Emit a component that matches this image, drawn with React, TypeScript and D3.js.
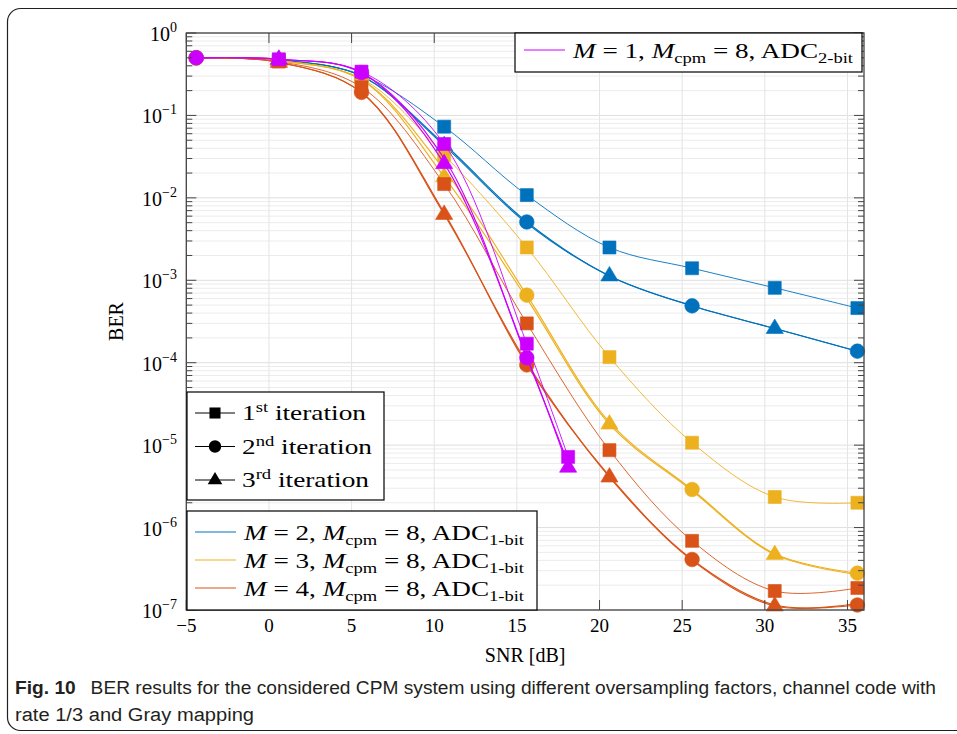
import React from 'react';
import * as d3 from 'd3';

// ---------- data ----------
const snr = [-4.4, 0.6, 5.6, 10.6, 15.6, 20.6, 25.6, 30.6, 35.6];
const snrM1 = [-4.4, 0.6, 5.6, 10.6, 15.6, 18.1];

const berM2It1 = [0.5, 0.47, 0.31, 0.073, 0.0108, 0.0025, 0.0014, 0.00081, 0.00046];
const berM2It2 = [0.5, 0.47, 0.30, 0.045, 0.0051, 0.00113, 0.00049, 0.00026, 0.000138];
const berM2It3 = [0.5, 0.47, 0.30, 0.043, 0.0049, 0.00113, 0.00049, 0.00026, 0.000138];

const berM3It1 = [0.5, 0.46, 0.28, 0.033, 0.0025, 0.000117, 1.07e-5, 2.35e-6, 2.0e-6];
const berM3It2 = [0.5, 0.46, 0.27, 0.022, 0.00066, 1.9e-5, 2.9e-6, 4.8e-7, 2.8e-7];
const berM3It3 = [0.5, 0.46, 0.27, 0.018, 0.0006, 1.8e-5, 2.8e-6, 4.7e-7, 2.7e-7];

const berM4It1 = [0.5, 0.45, 0.22, 0.0147, 0.0003, 8.7e-6, 6.9e-7, 1.7e-7, 1.85e-7];
const berM4It2 = [0.5, 0.44, 0.19, 0.0066, 0.000094, 4.2e-6, 4.1e-7, 1.15e-7, 1.15e-7];
const berM4It3 = [0.5, 0.44, 0.19, 0.0063, 0.0001, 4.1e-6, 4.0e-7, 1.12e-7, 1.2e-7];

const berM1It1 = [0.5, 0.48, 0.34, 0.045, 0.00017, 7.2e-6];
const berM1It2 = [0.5, 0.48, 0.33, 0.03, 0.000115, 6.0e-6];
const berM1It3 = [0.5, 0.48, 0.33, 0.026, 0.00012, 5.4e-6];

const xTicks = [-5, 0, 5, 10, 15, 20, 25, 30, 35];
const yExponents = [0, -1, -2, -3, -4, -5, -6, -7];

const colors = { M1: '#cc00ff', M2: '#0072bd', M3: '#edb120', M4: '#d95319' };

const iterationLabels = [
  { n: '1', sup: 'st', marker: 'square' },
  { n: '2', sup: 'nd', marker: 'circle' },
  { n: '3', sup: 'rd', marker: 'triangle' },
];
const colorLegend = [
  { m: '2', adc: '1-bit', color: colors.M2 },
  { m: '3', adc: '1-bit', color: colors.M3 },
  { m: '4', adc: '1-bit', color: colors.M4 },
];

type Series = { xs: number[]; ys: number[]; color: string; it: number };

const series: Series[] = [
  { xs: snr, ys: berM2It1, color: colors.M2, it: 1 },
  { xs: snr, ys: berM2It2, color: colors.M2, it: 2 },
  { xs: snr, ys: berM2It3, color: colors.M2, it: 3 },
  { xs: snr, ys: berM3It1, color: colors.M3, it: 1 },
  { xs: snr, ys: berM3It2, color: colors.M3, it: 2 },
  { xs: snr, ys: berM3It3, color: colors.M3, it: 3 },
  { xs: snr, ys: berM4It1, color: colors.M4, it: 1 },
  { xs: snr, ys: berM4It2, color: colors.M4, it: 2 },
  { xs: snr, ys: berM4It3, color: colors.M4, it: 3 },
  { xs: snrM1, ys: berM1It1, color: colors.M1, it: 1 },
  { xs: snrM1, ys: berM1It2, color: colors.M1, it: 2 },
  { xs: snrM1, ys: berM1It3, color: colors.M1, it: 3 },
];

// ---------- layout ----------
const W = 957;
const H = 734;
const L = 186.3, R = 864, T = 33, B = 610;
const x = d3.scaleLinear().domain([-5, 36]).range([L, R]);
const y = d3.scaleLog().domain([1e-7, 1]).range([B, T]);

const SERIF = "'Liberation Serif', 'Times New Roman', serif";
const SANS = "'Liberation Sans', Arial, sans-serif";

function markerPath(kind: string, cx: number, cy: number, scale = 1): string {
  if (kind === 'square') {
    const h = 6.5 * scale;
    return `M${cx - h},${cy - h}h${2 * h}v${2 * h}h${-2 * h}Z`;
  }
  if (kind === 'circle') {
    const r = 7.3 * scale;
    return `M${cx - r},${cy}a${r},${r} 0 1,0 ${2 * r},0a${r},${r} 0 1,0 ${-2 * r},0Z`;
  }
  const w = 8.6 * scale;
  const top = 9.5 * scale;
  const bot = 5 * scale;
  return `M${cx},${cy - top}L${cx + w},${cy + bot}L${cx - w},${cy + bot}Z`;
}

function markerKind(it: number) {
  return it === 1 ? 'square' : it === 2 ? 'circle' : 'triangle';
}

function showMarker(it: number, i: number) {
  if (it === 1) return i >= 1;
  if (it === 2) return i % 2 === 0;
  return i % 2 === 1;
}

const lineGen = d3
  .line<[number, number]>()
  .x((d) => x(d[0]))
  .y((d) => y(d[1]))
  .curve(d3.curveCatmullRom.alpha(0.5));

function LegendEntryText({ m, adc, xPos, yPos }: { m: string; adc: string; xPos: number; yPos: number }) {
  return (
    <text
      x={xPos}
      y={yPos}
      fontFamily={SERIF}
      fontSize={22}
      fill="#000"
      textLength={280}
      lengthAdjust="spacingAndGlyphs"
    >
      <tspan fontStyle="italic">M</tspan>
      <tspan> = {m}, </tspan>
      <tspan fontStyle="italic">M</tspan>
      <tspan dy={5} fontSize={15}>cpm</tspan>
      <tspan dy={-5}> = 8, ADC</tspan>
      <tspan dy={5} fontSize={15}>{adc}</tspan>
    </text>
  );
}

const iterLengths = [124, 130, 127];

export default function App() {
  const yGrid = y.ticks();
  return (
    <svg
      width={W}
      height={H}
      viewBox={`0 0 ${W} ${H}`}
      style={{ position: 'absolute', left: 0, top: 0, background: '#fff' }}
    >
      <rect x={0} y={0} width={W} height={H} fill="#fff" />
      {/* frame */}
      <rect x={7.5} y={8.5} width={990} height={722} rx={13} fill="none" stroke="#231f20" strokeWidth={1.2} />

      <defs>
        <clipPath id="plotclip">
          <rect x={L} y={T} width={R - L} height={B - T} />
        </clipPath>
      </defs>

      {/* grid */}
      <g>
        {yGrid.map((v, i) => {
          const major = Math.abs(Math.log10(v) - Math.round(Math.log10(v))) < 1e-9;
          return (
            <line key={'gy' + i} x1={L} x2={R} y1={y(v)} y2={y(v)} stroke={major ? '#dedede' : '#ececec'} strokeWidth={1} />
          );
        })}
        {xTicks.map((t) => (
          <line key={'gx' + t} x1={x(t)} x2={x(t)} y1={T} y2={B} stroke="#e4e4e4" strokeWidth={1} />
        ))}
      </g>

      {/* series */}
      {series.map((s, si) => {
        const pts: [number, number][] = s.xs.map((xv, i) => [xv, s.ys[i]]);
        const kind = markerKind(s.it);
        return (
          <g key={'s' + si}>
            <path
              d={lineGen(pts) || ''}
              fill="none"
              stroke={s.color}
              strokeWidth={s.it === 1 ? 0.9 : 1.15}
              clipPath="url(#plotclip)"
            />
            {pts.map((p, i) =>
              showMarker(s.it, i) || (s.color === colors.M1 && i === pts.length - 1 && s.it !== 2) ? (
                <path key={i} d={markerPath(kind, x(p[0]), y(p[1]))} fill={s.color} stroke={s.color} strokeWidth={0.6} />
              ) : null
            )}
          </g>
        );
      })}

      {/* axis box */}
      <rect x={L} y={T} width={R - L} height={B - T} fill="none" stroke="#444" strokeWidth={1.3} />

      {/* ticks */}
      <g stroke="#444" strokeWidth={1}>
        {xTicks.map((t) => (
          <g key={'tx' + t}>
            <line x1={x(t)} x2={x(t)} y1={B} y2={B - 10} />
            <line x1={x(t)} x2={x(t)} y1={T} y2={T + 10} />
          </g>
        ))}
        {yGrid.map((v, i) => {
          const major = Math.abs(Math.log10(v) - Math.round(Math.log10(v))) < 1e-9;
          const len = major ? 10 : 6;
          return (
            <g key={'ty' + i}>
              <line x1={L} x2={L + len} y1={y(v)} y2={y(v)} />
              <line x1={R} x2={R - len} y1={y(v)} y2={y(v)} />
            </g>
          );
        })}
      </g>

      {/* tick labels */}
      <g fontFamily={SERIF} fill="#000">
        {xTicks.map((t) => (
          <text key={'lx' + t} x={x(t)} y={632} textAnchor="middle" fontSize={19}>
            {t < 0 ? '\u2212' + Math.abs(t) : String(t)}
          </text>
        ))}
        {yExponents.map((e) => (
          <text key={'ly' + e} x={177} y={y(Math.pow(10, e)) + 8} textAnchor="end" fontSize={20}>
            10
            <tspan dy={-9} fontSize={14}>
              {e < 0 ? '\u2212' + Math.abs(e) : String(e)}
            </tspan>
          </text>
        ))}
      </g>

      {/* axis titles */}
      <text x={(L + R) / 2} y={662} textAnchor="middle" fontFamily={SERIF} fontSize={20}>
        SNR [dB]
      </text>
      <text
        transform={`translate(123,${(T + B) / 2}) rotate(-90)`}
        textAnchor="middle"
        fontFamily={SERIF}
        fontSize={20}
      >
        BER
      </text>

      {/* top-right legend */}
      <g>
        <rect x={515} y={33} width={347} height={39} fill="#fff" stroke="#000" strokeWidth={1.2} />
        <line x1={524} x2={565} y1={50} y2={50} stroke={colors.M1} strokeWidth={1} />
        <LegendEntryText m="1" adc="2-bit" xPos={573} yPos={58} />
      </g>

      {/* iteration legend */}
      <g>
        <rect x={187} y={392} width={197} height={108} fill="#fff" stroke="#000" strokeWidth={1.2} />
        {iterationLabels.map((d, i) => {
          const cy = 413 + i * 33.5;
          return (
            <g key={'il' + i}>
              <line x1={195} x2={235} y1={cy} y2={cy} stroke="#000" strokeWidth={1} />
              <path d={markerPath(d.marker, 215, cy, 0.85)} fill="#000" />
              <text
                x={242}
                y={cy + 7}
                fontFamily={SERIF}
                fontSize={22}
                textLength={iterLengths[i]}
                lengthAdjust="spacingAndGlyphs"
              >
                {d.n}
                <tspan dy={-8} fontSize={15}>{d.sup}</tspan>
                <tspan dy={8}>{'\u00a0iteration'}</tspan>
              </text>
            </g>
          );
        })}
      </g>

      {/* color legend */}
      <g>
        <rect x={187} y={511} width={350} height={99} fill="#fff" stroke="#000" strokeWidth={1.2} />
        {colorLegend.map((d, i) => {
          const cy = 532 + i * 28;
          return (
            <g key={'cl' + i}>
              <line x1={195} x2={236} y1={cy} y2={cy} stroke={d.color} strokeWidth={1} />
              <LegendEntryText m={d.m} adc={d.adc} xPos={244} yPos={cy + 8} />
            </g>
          );
        })}
      </g>

      {/* caption */}
      <text x={15} y={694} fontFamily={SANS} fontSize={18} fill="#231f20" textLength={921} lengthAdjust="spacingAndGlyphs">
        <tspan fontWeight="bold">Fig. 10</tspan>
        <tspan>{'\u2002 BER results for the considered CPM system using different oversampling factors, channel code with'}</tspan>
      </text>
      <text x={15} y={721} fontFamily={SANS} fontSize={18} fill="#231f20" textLength={239} lengthAdjust="spacingAndGlyphs">
        rate 1/3 and Gray mapping
      </text>
    </svg>
  );
}
